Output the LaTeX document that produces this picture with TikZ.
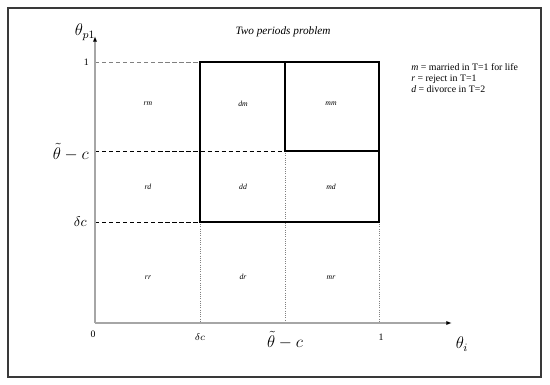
\documentclass[tikz,border=0pt]{standalone}
\usepackage{fontspec}
\setmainfont{Liberation Serif}
\usepackage{tikz}
\usetikzlibrary{arrows.meta, positioning}

\begin{document}
\begin{tikzpicture}[
  x=0.025cm, y=-0.025cm,
  frame/.style={draw=gray!45!black, line width=1pt},
  axis/.style={draw=gray!70, line width=0.9pt,
               -{Latex[length=4pt, width=3pt, color=black]}},
  regbox/.style={draw, line width=1.1pt},
  guide/.style={densely dashed, line width=0.6pt},
  drop/.style={gray, densely dotted, line width=0.6pt},
  cell/.style={font=\fontsize{5.5}{6}\selectfont\itshape, inner sep=0pt},
  tick/.style={font=\fontsize{7}{8}\selectfont, inner sep=0pt},
  big/.style={font=\fontsize{11.5}{14}\selectfont, inner sep=0pt},
]
\useasboundingbox (0,0) rectangle (550,385);
\draw[frame] (8,8) rectangle (541,377);

% axes and grid points
\coordinate (O)    at (95,323);
\coordinate (xend) at (452,323);
\coordinate (yend) at (95,36);
\coordinate (y1)   at (95,62);
\coordinate (y2)   at (95,151);
\coordinate (y3)   at (95,222);
\coordinate (x1)   at (200,323);
\coordinate (x2)   at (285,323);
\coordinate (x3)   at (379,323);
\coordinate (a)    at (200,62);
\coordinate (b)    at (285,62);
\coordinate (g)    at (379,222);
\coordinate (d)    at (285,151);
\coordinate (e)    at (379,151);
\coordinate (f)    at (200,222);

\draw[guide, gray] (y1) -- (a);
\draw[guide]       (y2) -- (d);
\draw[guide]       (y3) -- (f);
\draw[drop] (f) -- (x1);
\draw[drop] (d) -- (x2);
\draw[drop] (g) -- (x3);

\draw[axis] (O) -- (yend);
\draw[axis] (O) -- (xend);

\draw[regbox] (a) rectangle (g);
\draw[regbox] (b) -- (d) -- (e);

% tick labels
\node[tick, anchor=east] (ty1) at (89,62)  {1};
\node[big,  anchor=east] (ty2) at (89,152) {$\tilde{\theta} - c$};
\node[big,  anchor=east, font=\fontsize{10}{12}\selectfont] (ty3) at (87,222) {$\delta c$};
\node[tick] (tx0) at (93,334)  {0};
\node[tick] (tx1) at (200,337) {$\delta c$};
\node[big]  (tx2) at (285,340) {$\tilde{\theta} - c$};
\node[tick] (tx3) at (381,337) {1};
\node[big]  (xlab) at (462,344) {$\theta_i$};
\node[big]  (ylab) at (85,32)   {$\theta_{p1}$};

% regions
\node[cell] (rm) at (148,104) {rm};
\node[cell] (dm) at (243,104) {dm};
\node[cell] (mm) at (331,104) {mm};
\node[cell] (rd) at (148,187) {rd};
\node[cell] (dd) at (243,187) {dd};
\node[cell] (md) at (331,187) {md};
\node[cell] (rr) at (148,278) {rr};
\node[cell] (dr) at (243,277) {dr};
\node[cell] (mr) at (331,278) {mr};

\node[font=\fontsize{8}{9}\selectfont\itshape] (title) at (283,32) {Two periods problem};
\node[font=\fontsize{7}{7.8}\selectfont, align=left, anchor=north west, inner sep=0pt] (legend) at (411,63)
  {\textit{m} = married in T=1 for life\\
   \textit{r} = reject in T=1\\
   \textit{d} = divorce in T=2};
\end{tikzpicture}
\end{document}
